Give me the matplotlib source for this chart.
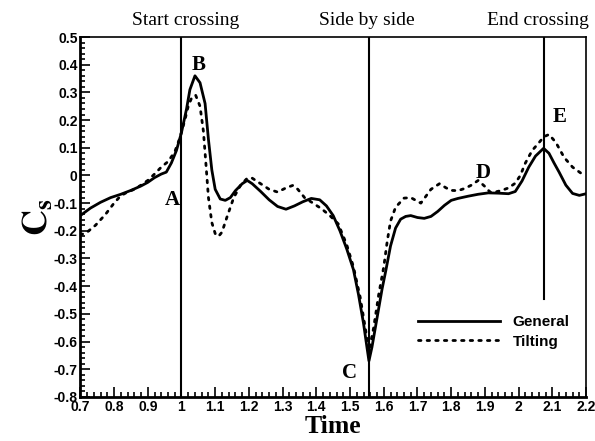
"""
    Side force coefficient during crossing
"""

import matplotlib
matplotlib.use("Agg")
import matplotlib.pyplot as plt
import matplotlib.transforms as mtransforms
from matplotlib.ticker import MultipleLocator, FormatStrFormatter

plt.rcParams["mathtext.fontset"] = "stix"

# Data
time_general = [0.70, 0.73, 0.76, 0.79, 0.82, 0.85, 0.88, 0.90, 0.92, 0.94,
                0.955, 0.97, 0.985, 1.00, 1.015, 1.025, 1.04, 1.055, 1.07, 1.08,
                1.09, 1.10, 1.115, 1.13, 1.145, 1.16, 1.18, 1.195, 1.21, 1.235,
                1.26, 1.285, 1.31, 1.335, 1.36, 1.385, 1.41, 1.43, 1.45, 1.47,
                1.49, 1.51, 1.525, 1.54, 1.55, 1.556, 1.565, 1.58, 1.595, 1.606,
                1.62, 1.635, 1.65, 1.665, 1.68, 1.70, 1.72, 1.74, 1.76, 1.78,
                1.80, 1.82, 1.85, 1.88, 1.91, 1.94, 1.97, 1.99, 2.01, 2.03,
                2.05, 2.074, 2.09, 2.105, 2.12, 2.14, 2.16, 2.18, 2.20]
cs_general = [-0.145, -0.118, -0.097, -0.080, -0.068, -0.054, -0.038, -0.025, -0.008, 0.005,
              0.012, 0.045, 0.09, 0.155, 0.24, 0.31, 0.36, 0.335, 0.26, 0.13,
              0.02, -0.05, -0.085, -0.09, -0.08, -0.055, -0.03, -0.018, -0.03, -0.058,
              -0.088, -0.112, -0.122, -0.11, -0.095, -0.083, -0.088, -0.11, -0.145, -0.2,
              -0.265, -0.34, -0.43, -0.535, -0.62, -0.67, -0.62, -0.515, -0.41, -0.344,
              -0.255, -0.19, -0.158, -0.148, -0.145, -0.152, -0.155, -0.148, -0.13, -0.108,
              -0.09, -0.083, -0.075, -0.068, -0.063, -0.064, -0.066, -0.058, -0.02, 0.03,
              0.07, 0.098, 0.08, 0.045, 0.012, -0.035, -0.065, -0.072, -0.066]

time_tilting = [0.70, 0.72, 0.745, 0.775, 0.80, 0.82, 0.84, 0.86, 0.88, 0.90,
                0.92, 0.94, 0.96, 0.98, 0.995, 1.01, 1.02, 1.03, 1.042, 1.055,
                1.065, 1.072, 1.08, 1.09, 1.10, 1.11, 1.12, 1.135, 1.155, 1.175,
                1.195, 1.21, 1.235, 1.26, 1.285, 1.31, 1.33, 1.345, 1.365, 1.39,
                1.415, 1.44, 1.465, 1.49, 1.51, 1.53, 1.545, 1.556, 1.57, 1.585,
                1.60, 1.61, 1.62, 1.635, 1.66, 1.68, 1.695, 1.71, 1.725, 1.74,
                1.765, 1.785, 1.80, 1.82, 1.84, 1.86, 1.88, 1.90, 1.915, 1.93,
                1.95, 1.97, 1.99, 2.005, 2.02, 2.04, 2.06, 2.075, 2.09, 2.11,
                2.135, 2.16, 2.185, 2.20]
cs_tilting = [-0.215, -0.205, -0.18, -0.14, -0.10, -0.073, -0.06, -0.05, -0.035, -0.018,
              0.005, 0.03, 0.05, 0.085, 0.135, 0.2, 0.25, 0.28, 0.29, 0.25,
              0.16, 0.05, -0.08, -0.17, -0.21, -0.22, -0.205, -0.15, -0.08, -0.036,
              -0.01, -0.01, -0.03, -0.05, -0.06, -0.045, -0.036, -0.05, -0.08, -0.1,
              -0.12, -0.145, -0.175, -0.25, -0.33, -0.44, -0.55, -0.635, -0.55, -0.43,
              -0.33, -0.24, -0.165, -0.115, -0.082, -0.08, -0.09, -0.1, -0.075, -0.05,
              -0.03, -0.045, -0.054, -0.055, -0.047, -0.035, -0.018, -0.04, -0.06, -0.06,
              -0.054, -0.045, -0.028, 0.0, 0.045, 0.09, 0.118, 0.14, 0.148, 0.12,
              0.065, 0.03, 0.008, 0.01]

# event lines: (time, bottom of line)
event_times = [1.0, 1.556, 2.075]
event_bottoms = [-0.8, -0.8, -0.445]
event_names = ["Start crossing", "Side by side", "End crossing"]
event_label_x = [1.011, 1.55, 2.056]

point_names = ["A", "B", "C", "D", "E"]
point_x = [0.974, 1.05, 1.497, 1.895, 2.12]
point_y = [-0.09, 0.40, -0.715, 0.01, 0.21]

fig = plt.figure(figsize=(5.95, 4.41), dpi=100)
ax = fig.add_axes([0.135, 0.10, 0.85, 0.816])

ax.plot(time_general, cs_general, color="black", lw=2.0, label="General")
ax.plot(time_tilting, cs_tilting, color="black", lw=2.0,
        linestyle=(0, (0.9, 2.2)), dash_capstyle="round", label="Tilting")

for t, b in zip(event_times, event_bottoms):
    ax.plot([t, t], [b, 0.5], color="black", lw=1.5)

trans = mtransforms.blended_transform_factory(ax.transData, ax.transAxes)
for name, lx in zip(event_names, event_label_x):
    ax.text(lx, 1.047, name, transform=trans, ha="center", va="center",
            fontsize=14, family="Liberation Serif")

for name, px, py in zip(point_names, point_x, point_y):
    ax.text(px, py, name, ha="center", va="center", fontsize=15,
            fontweight="bold", family="Liberation Serif")

ax.set_xlim(0.7, 2.2)
ax.set_ylim(-0.8, 0.5)
ax.xaxis.set_major_locator(MultipleLocator(0.1))
ax.xaxis.set_minor_locator(MultipleLocator(0.02))
ax.yaxis.set_major_locator(MultipleLocator(0.1))
ax.yaxis.set_minor_locator(MultipleLocator(0.02))
ax.xaxis.set_major_formatter(FormatStrFormatter("%g"))
ax.yaxis.set_major_formatter(FormatStrFormatter("%g"))
ax.tick_params(which="both", direction="in", top=False, right=False,
               width=1.2, labelsize=10, pad=2)
ax.tick_params(which="major", length=7)
ax.tick_params(which="minor", length=3.5)
for lbl in ax.get_xticklabels() + ax.get_yticklabels():
    lbl.set_fontweight("bold")
    lbl.set_family("Liberation Sans")

for side in ["left", "bottom"]:
    ax.spines[side].set_linewidth(2.0)
for side in ["top", "right"]:
    ax.spines[side].set_linewidth(1.2)

ax.set_xlabel("Time", fontsize=18.5, fontweight="bold",
              family="Liberation Serif", labelpad=1)
ax.set_ylabel(r"$\mathbf{C_s}$", fontsize=26, labelpad=0)

leg = ax.legend(loc="center left", bbox_to_anchor=(0.652, 0.18), frameon=False,
                handlelength=5.4, handletextpad=0.8, borderpad=0,
                labelspacing=0.35, prop={"family": "Liberation Sans",
                                         "weight": "bold", "size": 11})

plt.savefig("out.png", dpi=100)
